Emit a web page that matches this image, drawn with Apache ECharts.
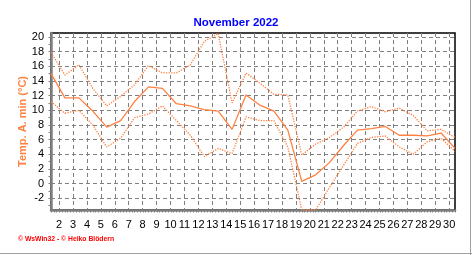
<!DOCTYPE html>
<html>
<head>
<meta charset="utf-8">
<script src="https://cdn.jsdelivr.net/npm/echarts@6/dist/echarts.min.js"></script>
<style>
html,body{margin:0;padding:0;background:#fff;}
#chart{width:472px;height:255px;}
</style>
</head>
<body>
<div id="chart"></div>
<script>
// Days of November 2022
const days = [1,2,3,4,5,6,7,8,9,10,11,12,13,14,15,16,17,18,19,20,21,22,23,24,25,26,27,28,29,30];
// Temp. A. min (°C): solid line
const tempMin = [15.0,11.7,11.7,9.9,7.7,8.6,11.2,13.2,13.0,10.9,10.6,10.1,9.9,7.4,12.1,10.7,9.9,7.3,0.3,1.2,2.9,5.2,7.3,7.5,7.8,6.6,6.6,6.5,6.9,4.8];
// upper dotted line
const tempUpper = [17.9,14.8,16.2,13.0,10.6,11.9,13.5,16.1,15.1,15.1,16.2,19.4,20.5,11.0,15.1,13.7,12.2,12.1,3.9,5.4,6.3,7.7,9.9,10.5,9.8,10.3,9.3,7.2,7.4,6.3];
// lower dotted line
const tempLower = [11.2,9.6,10.0,8.0,5.0,6.2,9.0,9.5,10.6,8.6,6.6,3.7,4.8,4.1,9.1,8.6,8.6,5.0,-3.6,-3.6,-0.5,2.5,5.5,6.3,6.5,5.0,4.0,5.7,6.2,4.4];
// tick labels
const xTickLabels = ['2','3','4','5','6','7','8','9','10','11','12','13','14','15','16','17','18','19','20','21','22','23','24','25','26','27','28','29','30'];
const yTickLabels = [-2,0,2,4,6,8,10,12,14,16,18,20];
const yMinorTicks = [-3,-2,-1,0,1,2,3,4,5,6,7,8,9,10,11,12,13,14,15,16,17,18,19,20];

const LABEL_SHIFT = 0.42; // labels sit slightly before each day's point
const xLabelPos = xTickLabels.map(l => Number(l) - LABEL_SHIFT);
const xMinorPos = [];
for (let i = 0; i <= 29 * 5; i++) xMinorPos.push(1 + i / 5);

const ORANGE = '#ff8040';
const GRAY = '#808080';
const FONT = 'Liberation Sans, Arial, sans-serif';

const chart = echarts.init(document.getElementById('chart'), null, {renderer: 'canvas'});
const toPairs = arr => days.map((d, i) => [d, arr[i]]);

chart.setOption({
  animation: false,
  backgroundColor: '#fff',
  title: {
    text: 'November 2022',
    left: 'center',
    top: 12,
    textStyle: {color: '#0000ff', fontSize: 11.5, fontWeight: 'bold', fontFamily: FONT}
  },
  grid: {
    left: 51, right: 17, top: 33, bottom: 45,
    show: true, borderColor: '#000', borderWidth: 1.5, backgroundColor: 'transparent'
  },
  xAxis: [{
    type: 'value', min: 1, max: 30, position: 'bottom',
    axisLine: {show: true, onZero: false, lineStyle: {color: GRAY, width: 2.5}},
    axisTick: {show: false, customValues: xLabelPos},
    axisLabel: {
      customValues: xLabelPos, margin: 9,
      color: '#000', fontSize: 11, fontFamily: FONT,
      formatter: v => String(Math.round(v + LABEL_SHIFT))
    },
    splitLine: {show: true, lineStyle: {color: GRAY, width: 1, type: [4, 3]}}
  }, {
    type: 'value', min: 1, max: 30, position: 'bottom',
    axisLine: {show: false, onZero: false},
    axisTick: {show: true, customValues: xMinorPos, length: 2.5, lineStyle: {color: GRAY, width: 1}},
    axisLabel: {show: false},
    splitLine: {show: false}
  }],
  yAxis: [{
    type: 'value', min: -3.6, max: 20.55, position: 'left',
    name: 'Temp. A. min (°C)', nameLocation: 'middle', nameGap: 23, nameRotate: 90,
    nameMoveOverlap: false,
    nameTextStyle: {color: ORANGE, fontSize: 11, fontWeight: 'bold', fontFamily: FONT},
    axisLine: {show: true, onZero: false, lineStyle: {color: GRAY, width: 2.5}},
    axisTick: {show: false, customValues: yTickLabels},
    axisLabel: {customValues: yTickLabels, margin: 7, color: '#000', fontSize: 11, fontFamily: FONT},
    splitLine: {show: true, lineStyle: {color: GRAY, width: 1, type: [4, 3]}}
  }, {
    type: 'value', min: -3.6, max: 20.55, position: 'left',
    axisLine: {show: false, onZero: false},
    axisTick: {show: true, customValues: yMinorTicks, length: 2.5, lineStyle: {color: GRAY, width: 1}},
    axisLabel: {show: false},
    splitLine: {show: false}
  }],
  series: [{
    type: 'line', data: toPairs(tempUpper), symbol: 'none',
    lineStyle: {color: ORANGE, width: 1.3, type: 'dotted'}
  }, {
    type: 'line', data: toPairs(tempMin), symbol: 'none',
    lineStyle: {color: ORANGE, width: 1.3, type: 'solid'}
  }, {
    type: 'line', data: toPairs(tempLower), symbol: 'none',
    lineStyle: {color: ORANGE, width: 1.3, type: 'dotted'}
  }],
  graphic: [{
    type: 'text', left: 18, top: 236,
    style: {text: '© WsWin32 - © Heiko Blödern', fill: '#ff0000', fontSize: 6.8, fontWeight: 'bold', fontFamily: FONT}
  }, {
    type: 'line', shape: {x1: 470.5, y1: 0, x2: 470.5, y2: 255}, style: {stroke: '#a0a0a0', lineWidth: 1}
  }, {
    type: 'line', shape: {x1: 0, y1: 253.5, x2: 472, y2: 253.5}, style: {stroke: '#a0a0a0', lineWidth: 1}
  }]
});
</script>
</body>
</html>
